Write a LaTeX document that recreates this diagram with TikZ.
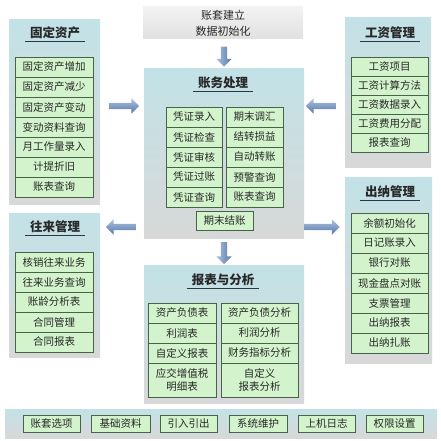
\documentclass[tikz,border=0pt]{standalone}
\usepackage{fontspec}
\setmainfont{Noto Sans CJK SC}
\usetikzlibrary{shapes.arrows}
\definecolor{panelblue}{RGB}{194,226,231}
\definecolor{panelgray}{RGB}{216,216,216}
\definecolor{itemfill}{RGB}{210,243,204}
\definecolor{itemedge}{RGB}{72,100,72}
\definecolor{txt}{RGB}{40,40,40}
\definecolor{arrowlight}{RGB}{172,194,224}
\definecolor{arrowdark}{RGB}{88,120,168}
\definecolor{ulinec}{RGB}{40,58,70}
\begin{document}
\begin{tikzpicture}[x=1pt,y=-1pt,
  panel/.style={anchor=north west, inner sep=0pt, outer sep=0pt, top color=panelblue, bottom color=panelgray, draw=none},
  ptitle/.style={font=\fontsize{12.5}{14}\selectfont\bfseries, text=txt, inner xsep=5pt, inner ysep=2pt},
  uline/.style={draw=ulinec, line width=1pt},
  item/.style={draw=itemedge, fill=itemfill, line width=0.7pt, inner sep=0pt, text=txt, font=\fontsize{10.5}{13}\selectfont, align=center},
  blockarrow/.style={single arrow, single arrow head extend=4.5pt, inner sep=3pt, minimum width=15pt, top color=arrowlight, bottom color=arrowdark, draw=none}
]
\useasboundingbox (0,0) rectangle (440,441);

% panels
\node[panel, minimum width=91pt, minimum height=184pt] (fa) at (9,20) {};
\node[panel, minimum width=160pt, minimum height=32pt, top color=gray!10, bottom color=gray!24, align=center, text=txt, font=\fontsize{11}{16}\selectfont] (init) at (143,7) {账套建立\\数据初始化};
\node[panel, minimum width=160pt, minimum height=169pt] (zw) at (144,69) {};
\node[panel, minimum width=160pt, minimum height=138pt] (bb) at (144,265) {};
\node[panel, minimum width=86pt, minimum height=149pt] (gz) at (345,18) {};
\node[panel, minimum width=87pt, minimum height=186pt] (cn) at (345,177) {};
\node[panel, minimum width=91pt, minimum height=144pt] (wl) at (9,213) {};
\node[panel, minimum width=432pt, minimum height=29pt] (bar) at (5,409) {};

% titles
\node[ptitle] (fat) at (55,33) {固定资产};
\draw[uline] (fat.south west) -- (fat.south east);
\node[ptitle] (zwt) at (223,83) {账务处理};
\draw[uline] (zwt.south west) -- (zwt.south east);
\node[ptitle] (bbt) at (223,280) {报表与分析};
\draw[uline] (bbt.south west) -- (bbt.south east);
\node[ptitle] (gzt) at (390,33) {工资管理};
\draw[uline] (gzt.south west) -- (gzt.south east);
\node[ptitle] (cnt) at (390,192) {出纳管理};
\draw[uline] (cnt.south west) -- (cnt.south east);
\node[ptitle] (wlt) at (55,227) {往来管理};
\draw[uline] (wlt.south west) -- (wlt.south east);

% fixed assets items
\foreach \t [count=\i from 0] in {固定资产增加,固定资产减少,固定资产变动,变动资料查询,月工作量录入,计提折旧,账表查询}
  \node[item, minimum width=78pt, minimum height=20pt] (fa\i) at (54,{67+20*\i}) {\t};

% accounting items
\foreach \t [count=\i from 0] in {凭证录入,凭证检查,凭证审核,凭证过账,凭证查询}
  \node[item, minimum width=56pt, minimum height=20pt] (zl\i) at (194,{117+20*\i}) {\t};
\foreach \t [count=\i from 0] in {期末调汇,结转损益,自动转账,预警查询,账表查询}
  \node[item, minimum width=57pt, minimum height=20pt] (zr\i) at (254.5,{117+20*\i}) {\t};
\node[item, minimum width=57pt, minimum height=19pt] (zend) at (224.5,221) {期末结账};

% report items
\node[item, minimum width=68pt, minimum height=20pt] (bl0) at (182,313) {资产负债表};
\node[item, minimum width=68pt, minimum height=20pt] (bl1) at (182,333) {利润表};
\node[item, minimum width=68pt, minimum height=20pt] (bl2) at (182,353) {自定义报表};
\node[item, minimum width=68pt, minimum height=34pt] (bl3) at (182,380) {应交增值税\\明细表};
\node[item, minimum width=77pt, minimum height=20pt] (br0) at (259.5,313) {资产负债分析};
\node[item, minimum width=77pt, minimum height=20pt] (br1) at (259.5,333) {利润分析};
\node[item, minimum width=77pt, minimum height=20pt] (br2) at (259.5,353) {财务指标分析};
\node[item, minimum width=77pt, minimum height=34pt] (br3) at (259.5,380) {自定义\\报表分析};

% wage items
\foreach \t [count=\i from 0] in {工资项目,工资计算方法,工资数据录入,工资费用分配,报表查询}
  \node[item, minimum width=77pt, minimum height=19pt] (gz\i) at (389.5,{66.5+19*\i}) {\t};

% cashier items
\foreach \t [count=\i from 0] in {余额初始化,日记账录入,银行对账,现金盘点对账,支票管理,出纳报表,出纳扎账}
  \node[item, minimum width=77pt, minimum height=20pt] (cn\i) at (389.5,{223+20*\i}) {\t};

% current accounts items
\foreach \t [count=\i from 0] in {核销往来业务,往来业务查询,账龄分析表,合同管理,合同报表}
  \node[item, minimum width=78pt, minimum height=20pt] (wl\i) at (54,{262+20*\i}) {\t};

% bottom bar buttons
\foreach \t/\x/\w [count=\i] in {账套选项/51.5/57,基础资料/120.5/59,引入引出/188.5/57,系统维护/258/58,上机日志/326.5/57,权限设置/394.5/57}
  \node[item, minimum width=\w pt, minimum height=17pt] (bt\i) at (\x,423.5) {\t};

% block arrows
\node[blockarrow, shape border rotate=270, minimum height=20pt, left color=arrowlight, right color=arrowdark] (a1) at (224,55) {};
\node[blockarrow, shape border rotate=270, minimum height=22pt, left color=arrowlight, right color=arrowdark] (a2) at (224,251.5) {};
\node[blockarrow, minimum height=30pt] (a3) at (122.5,106) {};
\node[blockarrow, shape border rotate=180, minimum height=30pt] (a4) at (322.5,106) {};
\node[blockarrow, shape border rotate=180, minimum height=30pt] (a5) at (122.5,227) {};
\node[blockarrow, minimum height=35pt] (a6) at (320.5,227) {};
\end{tikzpicture}
\end{document}
